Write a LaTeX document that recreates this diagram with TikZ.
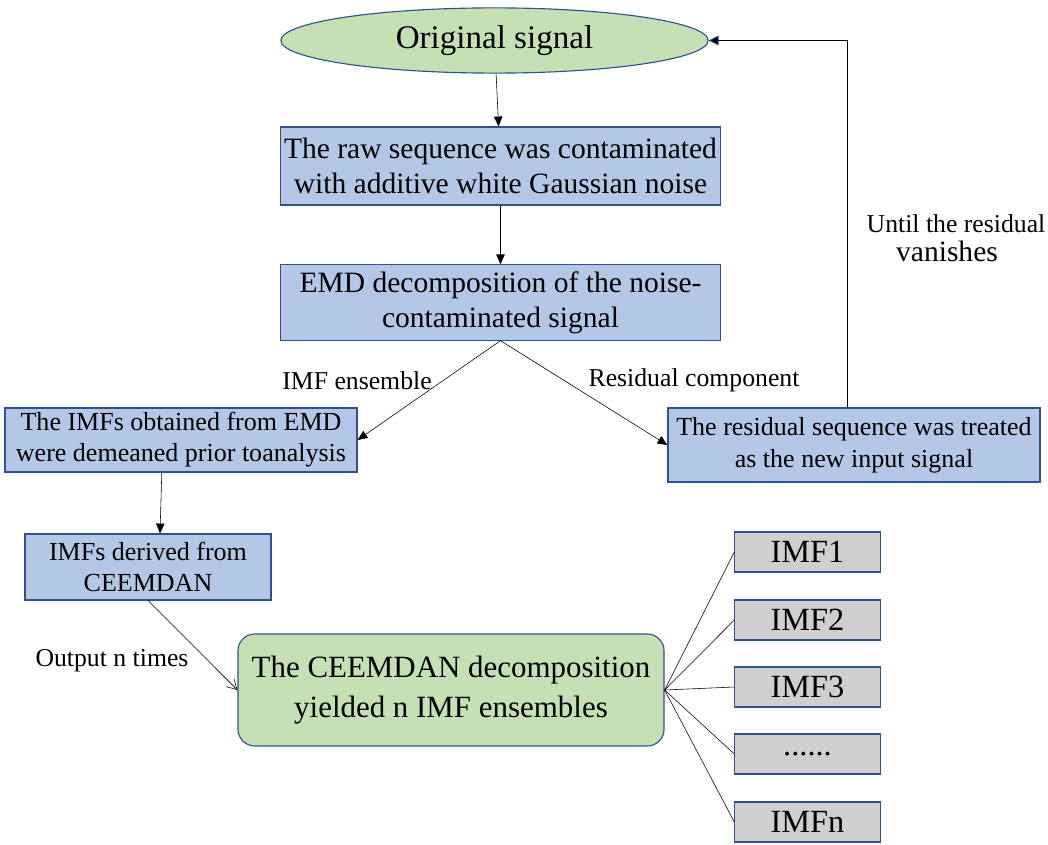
\documentclass[tikz,border=0pt]{standalone}
\usepackage{fontspec}
\setmainfont{Liberation Serif}
\usetikzlibrary{arrows.meta,shapes.geometric}

\definecolor{termgreen}{HTML}{C5E0B4}
\definecolor{stepblue}{HTML}{B4C7E7}
\definecolor{imfgray}{HTML}{D0CECE}
\definecolor{edgeblue}{HTML}{2F528F}

\tikzset{
    terminal/.style={ellipse, draw=edgeblue, thick, fill=termgreen, minimum width=10.68cm, minimum height=1.63cm, inner sep=0pt, font=\fontsize{23.5}{28}\selectfont},
    stepbox/.style={rectangle, draw=edgeblue, thick, fill=stepblue, align=center, inner sep=2pt},
    imfbox/.style={rectangle, draw=edgeblue, thick, fill=imfgray, minimum width=3.63cm, minimum height=1cm, font=\fontsize{23}{27}\selectfont},
    arr/.style={-{Triangle[length=7pt,width=6pt]}, thin},
    openarr/.style={-{Straight Barb[length=7pt,width=8pt]}, thin},
    lbl/.style={font=\fontsize{18.3}{22}\selectfont}
}

\begin{document}
\begin{tikzpicture}[x=0.025cm, y=-0.025cm]
    \useasboundingbox (0,0) rectangle (1048,845);

    % Main chain
    \node[terminal] (orig) at (494.5,40.5) {Original signal};
    \node[stepbox, minimum width=10.98cm, minimum height=1.95cm, font=\fontsize{21}{25}\selectfont] (raw) at (500.5,166)
        {The raw sequence was contaminated\\with additive white Gaussian noise};
    \node[stepbox, minimum width=10.98cm, minimum height=1.88cm, font=\fontsize{21}{25}\selectfont] (emd) at (500.5,302.5)
        {EMD decomposition of the noise-\\contaminated signal};

    % Two branches
    \node[stepbox, minimum width=8.8cm, minimum height=1.6cm, font=\fontsize{18.5}{22}\selectfont] (imfs) at (181,440)
        {The IMFs obtained from EMD\\were demeaned prior toanalysis};
    \node[stepbox, minimum width=9.3cm, minimum height=1.85cm, font=\fontsize{18.5}{23}\selectfont] (resid) at (854,445)
        {The residual sequence was treated\\as the new input signal};
    \node[stepbox, minimum width=6.15cm, minimum height=1.65cm, font=\fontsize{18.5}{22}\selectfont] (ceem) at (148,567)
        {IMFs derived from\\CEEMDAN};

    % Result
    \node[stepbox, fill=termgreen, rounded corners=12pt, minimum width=10.65cm, minimum height=2.8cm, font=\fontsize{22}{29}\selectfont] (result) at (451,690)
        {The CEEMDAN decomposition\\yielded n IMF ensembles};

    % IMF outputs
    \node[imfbox] (imf1) at (807.5,552) {IMF1};
    \node[imfbox] (imf2) at (807.5,620) {IMF2};
    \node[imfbox] (imf3) at (807.5,687) {IMF3};
    \node[imfbox] (imf4) at (807.5,754) {......};
    \node[imfbox] (imf5) at (807.5,822) {IMFn};

    % Labels
    \node[lbl] (lblimf) at (357,381) {IMF ensemble};
    \node[lbl] (lblres) at (694,380) {Residual component};
    \node[lbl] (lblout) at (112,661) {Output n times};
    \node[lbl] (lbluntil) at (956,224) {Until the residual};
    \node[font=\fontsize{21}{25}\selectfont] (lblvan) at (947,251) {vanishes};

    % Arrows
    \draw[arr] (orig) -- (raw);
    \draw[arr] (raw) -- (emd);
    \draw[arr] (emd.south) -- (imfs.east);
    \draw[arr] (emd.south) -- (resid.west);
    \coordinate (fb) at (847,40);
    \draw[semithick, -{Triangle[length=7pt,width=7pt,fill=black,color=edgeblue]}] (resid.north -| fb) |- (orig.east);
    \draw[arr] ([xshift=-0.48cm]imfs.south) -- ([xshift=0.3cm]ceem.north);
    \draw[openarr] (ceem.south) -- (result.west);
    \foreach \i in {1,...,5}
        \draw (result.east) -- (imf\i.west);
\end{tikzpicture}
\end{document}
